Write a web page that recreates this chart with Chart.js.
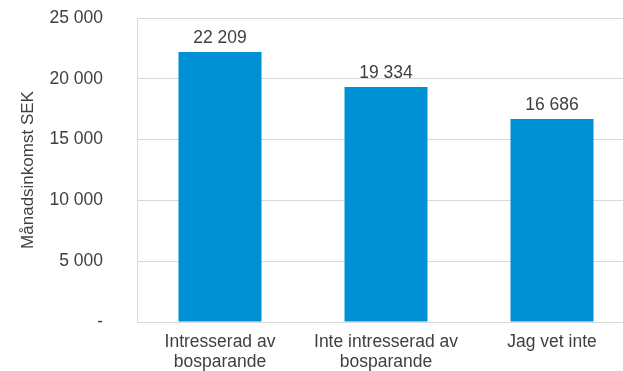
<!DOCTYPE html>
<html>
<head>
<meta charset="utf-8">
<script src="https://cdn.jsdelivr.net/npm/chart.js@4/dist/chart.umd.min.js"></script>
<style>
  html, body { margin: 0; padding: 0; background: #fff; overflow: hidden; }
  #wrap { width: 623px; height: 371px; overflow: hidden; }
</style>
</head>
<body>
<div id="wrap"><canvas id="incomeChart" width="640" height="371"></canvas></div>
<script>
// Categories and values
const categories = [
  ['Intresserad av', 'bosparande'],
  ['Inte intresserad av', 'bosparande'],
  'Jag vet inte'
];
const income = [22209, 19334, 16686];
const yTicks = [0, 5000, 10000, 15000, 20000, 25000];

const FONT = '"Liberation Sans", Arial, sans-serif';

function formatSek(v) {
  if (v === 0) return '-';
  return String(v).replace(/\B(?=(\d{3})+(?!\d))/g, ' ');
}

// draws the value above each bar
const barLabels = {
  id: 'barLabels',
  afterDatasetsDraw(chart) {
    const ctx = chart.ctx;
    const meta = chart.getDatasetMeta(0);
    ctx.save();
    ctx.font = '17.5px ' + FONT;
    ctx.fillStyle = '#404040';
    ctx.textAlign = 'center';
    ctx.textBaseline = 'alphabetic';
    meta.data.forEach((bar, i) => {
      ctx.fillText(formatSek(income[i]), bar.x, bar.y - 9);
    });
    ctx.restore();
  }
};

const ctx = document.getElementById('incomeChart').getContext('2d');
new Chart(ctx, {
  type: 'bar',
  data: {
    labels: categories,
    datasets: [{
      data: income,
      backgroundColor: '#0091D5',
      categoryPercentage: 1,
      barPercentage: 0.5
    }]
  },
  options: {
    responsive: false,
    animation: false,
    layout: { padding: { left: 0, top: 18, right: 5, bottom: 0 } },
    plugins: {
      legend: { display: false },
      tooltip: { enabled: false }
    },
    scales: {
      x: {
        grid: { display: false },
        border: { color: '#d9d9d9' },
        ticks: {
          color: '#404040',
          font: { family: FONT, size: 17.5, lineHeight: 1.1 },
          padding: 3,
          maxRotation: 0
        },
        afterFit(scale) { scale.height = 49; }
      },
      y: {
        min: 0,
        max: 25000,
        afterBuildTicks(scale) { scale.ticks = yTicks.map(v => ({ value: v })); },
        grid: { color: '#d9d9d9', drawTicks: false },
        border: { color: '#d9d9d9' },
        ticks: {
          color: '#404040',
          font: { family: FONT, size: 17.5 },
          padding: 34,
          callback: v => formatSek(v)
        },
        title: {
          display: true,
          text: 'Månadsinkomst SEK',
          color: '#404040',
          font: { family: FONT, size: 17 },
          padding: { top: 18, bottom: 0 }
        },
        afterFit(scale) {
          scale.width = 137;
          scale.paddingTop = 0;
          scale.paddingBottom = 0;
        }
      }
    }
  },
  plugins: [barLabels]
});
</script>
</body>
</html>
